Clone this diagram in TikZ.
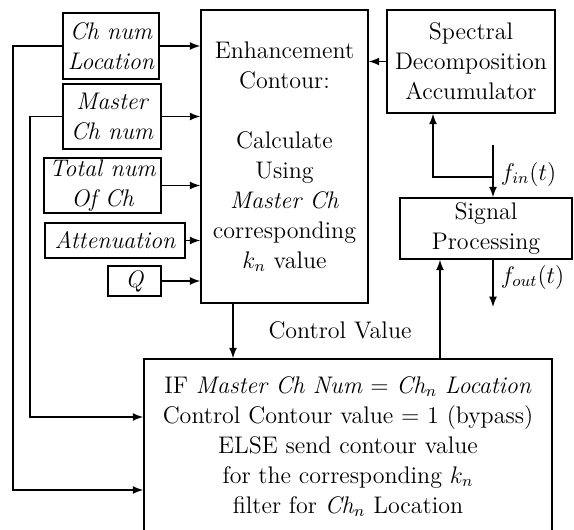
\documentclass[tikz,border=0pt]{standalone}
\usepackage{tikz}
\usetikzlibrary{positioning}

\begin{document}
\begin{tikzpicture}[
    x=0.5pt, y=-0.5pt,
    thick,
    font=\fontsize{12}{15}\selectfont
]
\tikzset{
    inbox/.style = {draw=black, align=center, inner sep=1pt, font=\fontsize{12}{15}\selectfont\itshape},
    mainbox/.style = {draw=black, align=center, inner sep=2pt},
    edgen/.style = {->, >=latex, thick}
}
\useasboundingbox (0,0) rectangle (574,530);
\node[inbox, minimum width=48pt, minimum height=33pt]   at (111,46)    (loc) {Ch num\\Location};
\node[inbox, minimum width=49pt, minimum height=32.5pt] at (112,116.5) (mst) {Master\\Ch num};
\node[inbox, minimum width=58.5pt, minimum height=27.5pt] at (102.5,185.5) (tot) {Total num\\Of Ch};
\node[inbox, minimum width=70pt, minimum height=17.5pt] at (115,240.5) (att) {Attenuation};
\node[inbox, minimum width=26.5pt, minimum height=15pt] at (134.5,281) (q) {Q};
\node[mainbox, minimum width=83.5pt, minimum height=146.5pt] at (284.5,156.5) (enh)
    {Enhancement\\Contour:\\[15pt]Calculate\\Using\\\textit{Master Ch}\\corresponding\\$k_n$ value};
\node[mainbox, minimum width=84pt, minimum height=51.5pt] at (471,61.5) (spec)
    {Spectral\\Decomposition\\Accumulator};
\node[mainbox, minimum width=86pt, minimum height=30.5pt] at (486,228.5) (sig)
    {Signal\\Processing};
\node[mainbox, minimum width=204pt, minimum height=87.5pt] at (348,446.5) (bot)
    {IF \textit{Master Ch Num} $=$ \textit{Ch}$_n$ \textit{Location}\\
     Control Contour value $=$ 1 (bypass)\\
     ELSE send contour value\\
     for the corresponding $k_n$\\
     filter for \textit{Ch}$_n$ Location};
\node at (340,330) (cvlbl) {Control Value};
\node[right, inner sep=0pt] at (500,174) (finlbl) {$f_{in}(t)$};
\node[right, inner sep=0pt] at (500,277) (foutlbl) {$f_{out}(t)$};
\coordinate (fintop) at (493,145);
\coordinate (split) at (493,177);
\coordinate (fback) at (433,177);
\coordinate (foutend) at (493,307);
\coordinate (sigup) at (440,300);
\coordinate (cv) at (233,330);
\coordinate (lo) at (13,490);
\coordinate (li) at (30,417);
\draw[edgen] (loc.east) -- (loc.east -| enh.west);
\draw[edgen] (mst.east) -- (mst.east -| enh.west);
\draw[edgen] (tot.east) -- (tot.east -| enh.west);
\draw[edgen] (att.east) -- (att.east -| enh.west);
\draw[edgen] (q.east) -- (q.east -| enh.west);
\draw[edgen] (spec.west) -- (spec.west -| enh.east);
\draw[edgen] (fintop) -- (fintop |- sig.north);
\draw[edgen] (split) -- (fback) -- (fback |- spec.south);
\draw[edgen] (foutend |- sig.south) -- (foutend);
\draw[edgen] (sigup |- bot.north) -- (sigup |- sig.south);
\draw[edgen] (cv |- enh.south) -- (cv |- bot.north);
\draw[edgen] (loc.west) -| (lo) -- (lo -| bot.west);
\draw[edgen] (mst.west) -| (li) -- (li -| bot.west);
\end{tikzpicture}
\end{document}
